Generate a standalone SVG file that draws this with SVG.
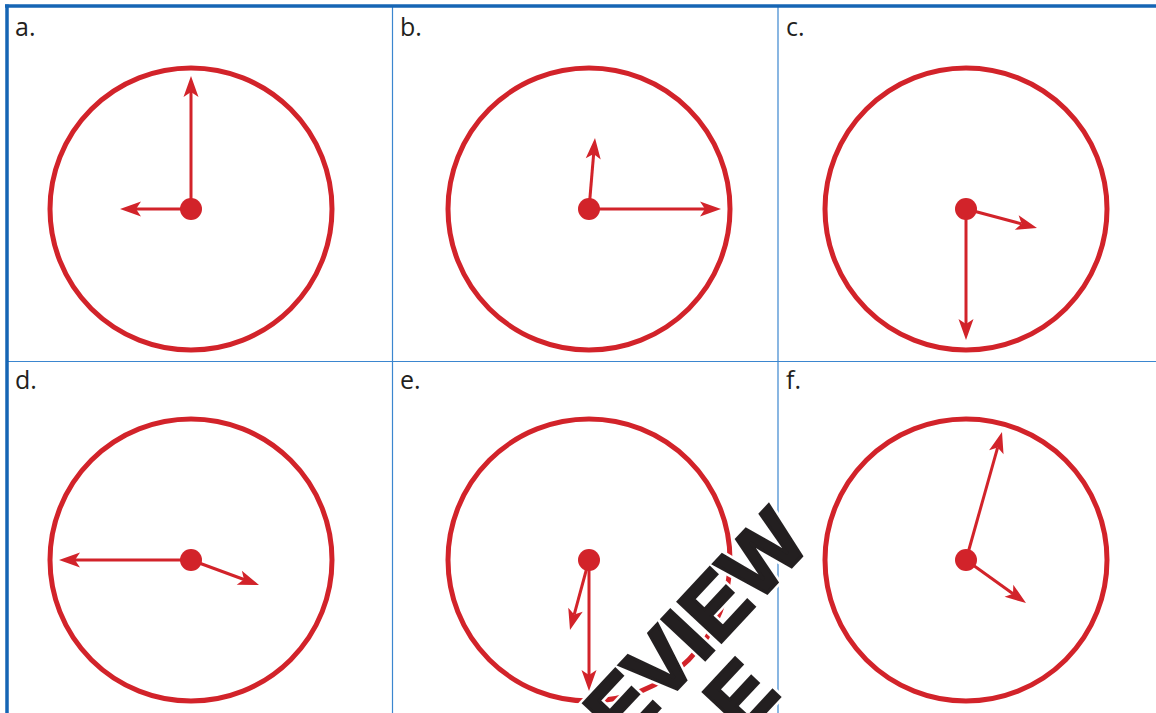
<svg xmlns="http://www.w3.org/2000/svg" width="1156" height="713" viewBox="0 0 1156 713">
<defs>
<style>
.face{fill:none;stroke:#d2232a;stroke-width:5}
.hub{fill:#d2232a}
.hand{stroke:#d2232a;stroke-width:3;marker-end:url(#ah)}
.lbl{font-family:"Open Sans","Liberation Sans",sans-serif;font-size:25px;fill:#231f20}
.grid{stroke:#3b86cf;stroke-width:1.2;fill:none}
.frame{stroke:#1565b4;stroke-width:3.5;fill:none}
.wm{font-family:"Liberation Sans",Arial,sans-serif;font-weight:bold;font-size:86px;fill:#231f20;stroke-linejoin:miter}
.halo{stroke:#fff;stroke-width:8}
.ink{stroke:#231f20;stroke-width:3}
</style>
<marker id="ah" markerUnits="userSpaceOnUse" viewBox="-6 -8 23 16" refX="0" refY="0" markerWidth="23" markerHeight="16" orient="auto">
<path d="M16,0 L-5,-7.5 L0,0 L-5,7.5 Z" fill="#d2232a"/>
</marker>
</defs>
<rect width="1156" height="713" fill="#fff"/>
<g id="grid">
<line class="grid" x1="392.5" y1="6" x2="392.5" y2="713"/>
<line class="grid" x1="778" y1="6" x2="778" y2="713"/>
<line class="grid" x1="7" y1="361.5" x2="1156" y2="361.5"/>
<line class="frame" x1="5" y1="6" x2="1156" y2="6"/>
<line class="frame" x1="7" y1="4.5" x2="7" y2="713"/>
</g>
<g id="labels">
<text class="lbl" x="15" y="36">a.</text>
<text class="lbl" x="400" y="36">b.</text>
<text class="lbl" x="786" y="36">c.</text>
<text class="lbl" x="15" y="389">d.</text>
<text class="lbl" x="400" y="389">e.</text>
<text class="lbl" x="786" y="389">f.</text>
</g>
<g id="clock-a">
<circle class="face" cx="191" cy="209" r="141"/>
<line class="hand" x1="191" y1="209" x2="191" y2="92"/>
<line class="hand" x1="191" y1="209" x2="136" y2="209"/>
<circle class="hub" cx="191" cy="209" r="11"/>
</g>
<g id="clock-b">
<circle class="face" cx="589" cy="209" r="141"/>
<line class="hand" x1="589" y1="209" x2="705" y2="209"/>
<line class="hand" x1="589" y1="209" x2="593.65" y2="153.94"/>
<circle class="hub" cx="589" cy="209" r="11"/>
</g>
<g id="clock-c">
<circle class="face" cx="966" cy="209" r="141"/>
<line class="hand" x1="966" y1="209" x2="966" y2="324"/>
<line class="hand" x1="966" y1="209" x2="1021.54" y2="223.86"/>
<circle class="hub" cx="966" cy="209" r="11"/>
</g>
<g id="clock-d">
<circle class="face" cx="191" cy="560" r="141"/>
<line class="hand" x1="191" y1="560" x2="75" y2="560"/>
<line class="hand" x1="191" y1="560" x2="243.98" y2="579.48"/>
<circle class="hub" cx="191" cy="560" r="11"/>
</g>
<g id="clock-e">
<circle class="face" cx="589" cy="560" r="141"/>
<line class="hand" x1="589" y1="560" x2="589" y2="675"/>
<line class="hand" x1="589" y1="560" x2="574.19" y2="614.56"/>
<circle class="hub" cx="589" cy="560" r="11"/>
</g>
<g id="clock-f">
<circle class="face" cx="966" cy="560" r="141"/>
<line class="hand" x1="966" y1="560" x2="997.67" y2="447.4"/>
<line class="hand" x1="966" y1="560" x2="1013" y2="593.68"/>
<circle class="hub" cx="966" cy="560" r="11"/>
</g>
<g id="watermark" transform="translate(812,545) rotate(-47)">
<text class="wm halo" text-anchor="end">PREVIEW</text>
<text class="wm halo" text-anchor="end" x="-130" y="80">SAMPLE</text>
<text class="wm ink" text-anchor="end">PREVIEW</text>
<text class="wm ink" text-anchor="end" x="-130" y="80">SAMPLE</text>
</g>
</svg>
